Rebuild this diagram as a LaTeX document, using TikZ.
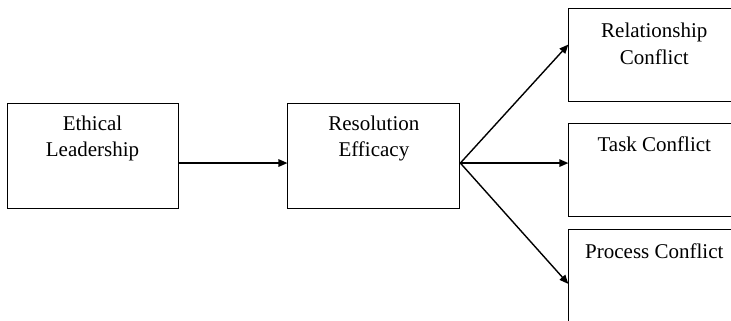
\documentclass[tikz,border=0pt]{standalone}
\usepackage{fontspec}
\setmainfont{Liberation Serif}
\usetikzlibrary{arrows.meta,positioning}
\tikzset{
    path diagram/.style = {>={Triangle[length=9pt, width=7.5pt]}},
    link/.style         = {->, line width=1.4pt},
    box/.style          = {draw, line width=0.9pt, fill=white,
                           minimum width=171pt, minimum height=105pt},
    obox/.style         = {box, minimum height=93pt},
    caption/.style      = {inner sep=0pt, align=center,
                           font=\fontsize{21}{26.5}\selectfont}
}

\begin{document}
\begin{tikzpicture}[path diagram]

% Page frame: the outcome boxes run past the right and bottom edges
\clip (0,0) rectangle (731pt,-321pt);

% Predictor -> mediator chain
\node[box] (el) at (92.5pt,-155.5pt) {};
\node[box, minimum width=172pt, right=109pt of el] (res) {};

% Outcome column
\node[obox, right=108pt of res, yshift=-14pt] (task) {};
\node[obox, above=20.5pt of task] (rel) {};
\node[obox, below=13pt of task] (proc) {};

% Box texts, set near the top edge
\node[caption, below=13pt of el.north]   (eltext)   {Ethical\\Leadership};
\node[caption, below=13pt of res.north]  (restext)  {Resolution\\Efficacy};
\node[caption, below=15pt of rel.north]  (reltext)  {Relationship\\Conflict};
\node[caption, below=14pt of task.north] (tasktext) {Task Conflict};
\node[caption, below=14pt of proc.north] (proctext) {Process Conflict};

% Paths, all leaving a little below the box centres
\draw[link] (el.-5.6) -- (res.west |- el.-5.6);
\coordinate (hub) at (res.-5.6);
\draw[link] (hub) -- (rel.173);
\draw[link] (hub) -- (task.west |- hub);
\draw[link] (hub) -- (proc.185);

\end{tikzpicture}
\end{document}
